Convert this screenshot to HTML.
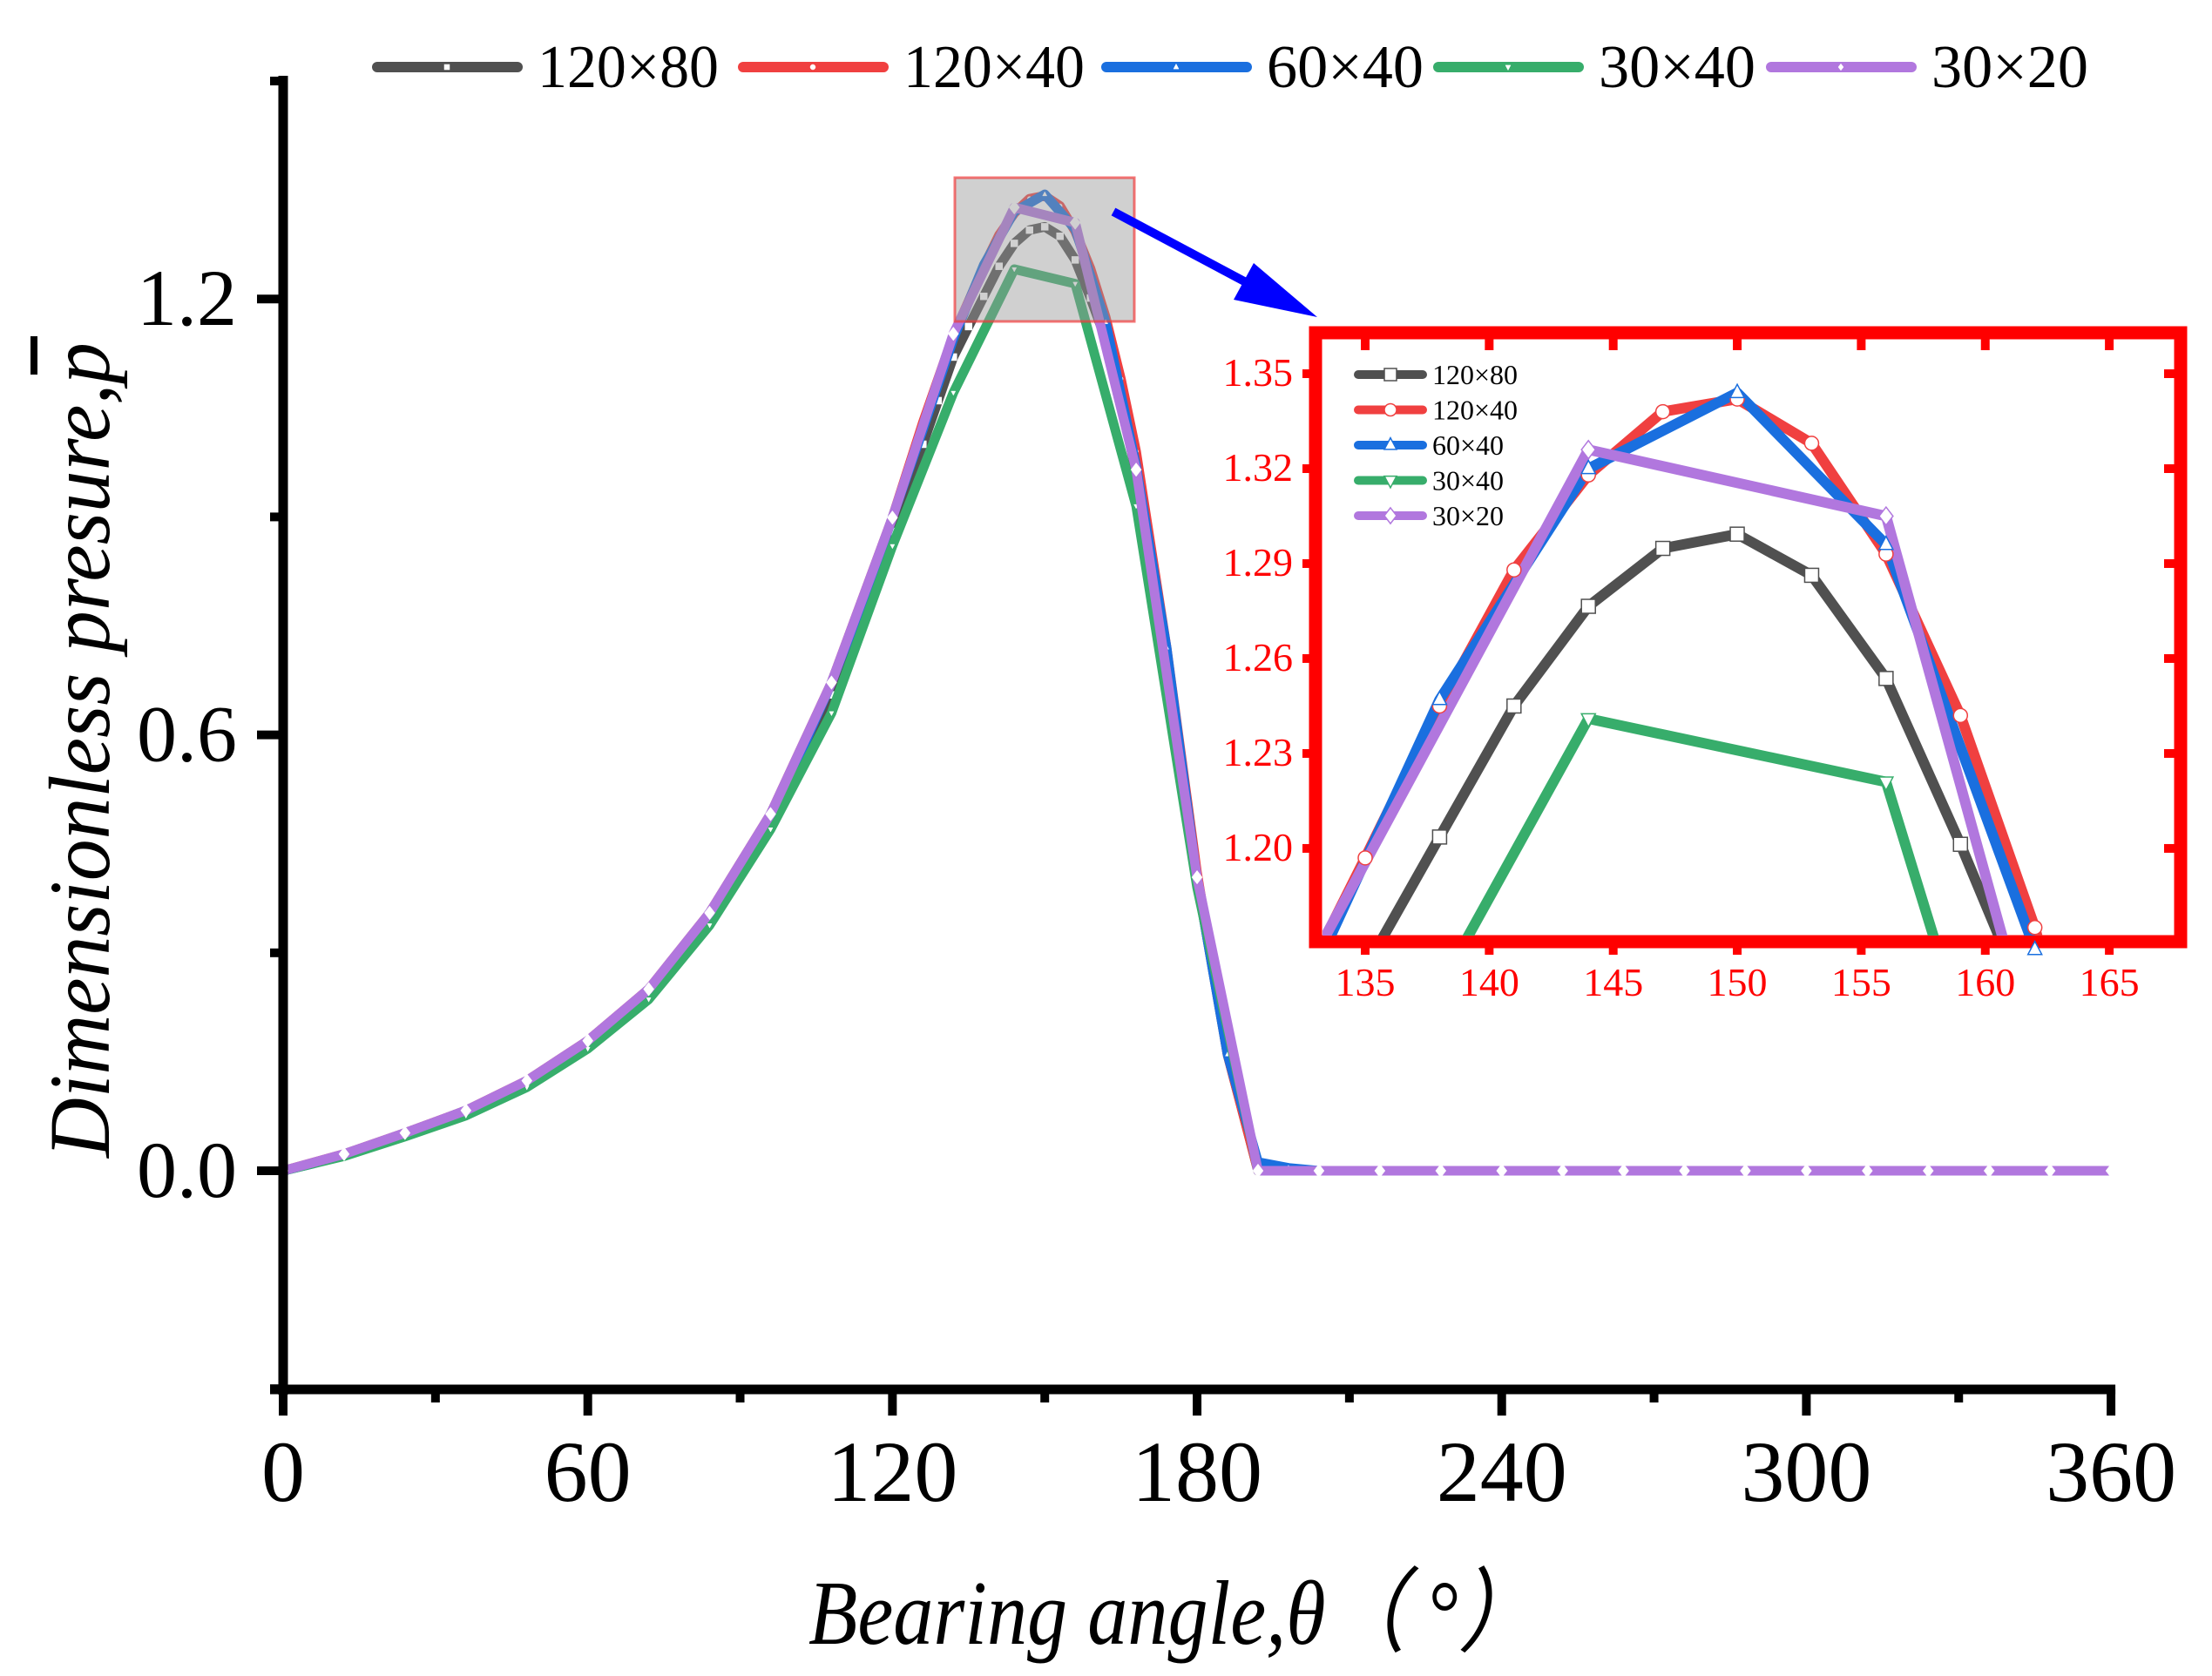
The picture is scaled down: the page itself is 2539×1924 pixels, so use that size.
<!DOCTYPE html>
<html><head><meta charset="utf-8"><style>
html,body{margin:0;padding:0;background:#fff;width:2539px;height:1924px;overflow:hidden}
svg{display:block}
text{font-family:"Liberation Serif",serif}
</style></head><body>
<svg id="chart" width="2539" height="1924" viewBox="0 0 2539 1924" xmlns="http://www.w3.org/2000/svg">
<defs><clipPath id="insetClip"><rect x="1518" y="389" width="978" height="685"/></clipPath></defs>
<g id="main"></g>
<g id="inset"></g>
</svg>
<script>
const xTicks = [0, 60, 120, 180, 240, 300, 360];
const xMinor = [30, 90, 150, 210, 270, 330];
const yTicks = [0.0, 0.6, 1.2];
const yTickLabels = ["0.0", "0.6", "1.2"];
const yMinor = [-0.3, 0.3, 0.9, 1.5];
const insetXTicks = [135, 140, 145, 150, 155, 160, 165];
const insetYTicks = [1.20, 1.23, 1.26, 1.29, 1.32, 1.35];
const insetYLabels = ["1.20", "1.23", "1.26", "1.29", "1.32", "1.35"];
const seriesNames = ["120×80", "120×40", "60×40", "30×40", "30×20"];

const zerosTheta = [204,216,228,240,252,264,276,288,300,312,324,336,348,360];
const zerosP = [0,0,0,0,0,0,0,0,0,0,0,0,0,0];

const theta120x80 = [0,12,24,36,48,60,72,84,96,108,120,126,129,132,135,138,141,144,147,150,153,156,159,162,165,168,174,180,186,192].concat(zerosTheta);
const p120x80 = [0,0.021,0.049,0.079,0.119,0.173,0.242,0.345,0.48,0.655,0.88,1.0,1.06,1.12,1.162,1.2036,1.245,1.2765,1.2948,1.2993,1.2863,1.2537,1.2013,1.145,1.06,0.96,0.70,0.40,0.16,0].concat(zerosP);

const theta120x40 = [0,12,24,36,48,60,72,84,96,108,120,126,129,132,135,138,141,144,147,150,153,156,159,162,165,168,174,180,186,192].concat(zerosTheta);
const p120x40 = [0,0.023,0.052,0.083,0.124,0.179,0.25,0.355,0.491,0.672,0.899,1.03,1.09,1.15,1.197,1.245,1.288,1.318,1.338,1.342,1.328,1.293,1.242,1.175,1.09,0.99,0.72,0.41,0.16,0].concat(zerosP);

const theta60x40 = [0,6,12,18,24,30,36,42,48,54,60,66,72,78,84,90,96,102,108,114,120,126,132,138,144,150,156,162,168,174,180,186,192,198].concat(zerosTheta);
const p60x40 = [0,0.01,0.023,0.037,0.052,0.067,0.083,0.102,0.124,0.149,0.179,0.212,0.25,0.298,0.355,0.418,0.491,0.576,0.672,0.78,0.899,1.02,1.145,1.247,1.32,1.344,1.296,1.168,0.97,0.72,0.40,0.16,0.012,0.004].concat(zerosP);

const theta30x40 = [0,12,24,36,48,60,72,84,96,108,120,132,144,156,168,180,192].concat(zerosTheta);
const p30x40 = [0,0.02,0.047,0.076,0.115,0.168,0.236,0.338,0.47,0.63,0.86,1.071,1.241,1.221,0.915,0.39,0].concat(zerosP);

const theta30x20 = [0,12,24,36,48,60,72,84,96,108,120,132,144,156,168,180,192].concat(zerosTheta);
const p30x20 = [0,0.023,0.052,0.083,0.124,0.179,0.25,0.355,0.491,0.672,0.899,1.152,1.326,1.305,0.965,0.404,0].concat(zerosP);

const NS = "http://www.w3.org/2000/svg";
function mk(tag, attrs, parent){const e=document.createElementNS(NS,tag);for(const k in attrs)e.setAttribute(k,attrs[k]);parent.appendChild(e);return e;}

const X = t => 325 + (t - 0) * 5.828;
const Y = v => 1344 - v * 834;
const IX = t => 1567 + (t - 135) * 28.47;
const IY = v => 429 - (v - 1.35) * 3633;

const series = [
 {name:seriesNames[0], th:theta120x80, p:p120x80, color:"#505050", m:"square", id:"120x80"},
 {name:seriesNames[1], th:theta120x40, p:p120x40, color:"#f04040", m:"circle", id:"120x40"},
 {name:seriesNames[2], th:theta60x40, p:p60x40, color:"#1a6fdf", m:"tri", id:"60x40"},
 {name:seriesNames[3], th:theta30x40, p:p30x40, color:"#37ad6b", m:"dtri", id:"30x40"},
 {name:seriesNames[4], th:theta30x20, p:p30x20, color:"#b177de", m:"diamond", id:"30x20"}
];

function marker(g, type, x, y, r, stroke, sw){
  let e;
  if(type==="square") e=mk("rect",{x:x-r,y:y-r,width:2*r,height:2*r},g);
  else if(type==="circle") e=mk("circle",{cx:x,cy:y,r:r},g);
  else if(type==="tri") e=mk("polygon",{points:`${x},${y-r*1.2} ${x-r},${y+r*0.7} ${x+r},${y+r*0.7}`},g);
  else if(type==="dtri") e=mk("polygon",{points:`${x},${y+r*1.2} ${x-r},${y-r*0.7} ${x+r},${y-r*0.7}`},g);
  else e=mk("polygon",{points:`${x},${y-r*1.3} ${x+r},${y} ${x},${y+r*1.3} ${x-r},${y}`},g);
  e.setAttribute("fill","#fff");e.setAttribute("stroke",stroke);e.setAttribute("stroke-width",sw);
  return e;
}

const main = document.getElementById("main");
series.forEach(s=>{
  const g = mk("g",{},main);
  
  
  const pts = s.th.map((t,i)=>X(t)+","+Y(s.p[i])).join(" ");
  const l = mk("polyline",{points:pts,fill:"none",stroke:s.color,"stroke-width":11,"stroke-linejoin":"round"},g);
  
  
  s.th.forEach((t,i)=>{
    const r = s.m==="diamond"?6:(s.m==="square"?4:2.5);
    const mm = marker(g, s.m, X(t), Y(s.p[i]), r, "#fff", 0.5);
    
    
  });
});
const zr = mk("rect",{x:1096,y:204,width:206,height:165,fill:"rgba(150,150,150,0.45)",stroke:"rgba(240,60,60,0.7)","stroke-width":3},main);


const ar = mk("g",{},main);


mk("line",{x1:1278,y1:243,x2:1432,y2:325,stroke:"#0000ff","stroke-width":10},ar);
mk("polygon",{points:"1439,302 1416,344 1512,364",fill:"#0000ff"},ar);

const ax = mk("g",{},main);


mk("line",{x1:325,y1:Y(1.5)-6,x2:325,y2:1601,stroke:"#000","stroke-width":11},ax);
mk("line",{x1:310,y1:1595,x2:X(360)+5,y2:1595,stroke:"#000","stroke-width":11},ax);
xTicks.forEach(t=>{
  mk("line",{x1:X(t),y1:1595,x2:X(t),y2:1625,stroke:"#000","stroke-width":10},ax);
  const tx = mk("text",{x:X(t),y:1723,"font-size":100,"text-anchor":"middle"},ax);
  tx.textContent = t;
  
  
});
xMinor.forEach(t=>{ mk("line",{x1:X(t),y1:1595,x2:X(t),y2:1610,stroke:"#000","stroke-width":10},ax); });
yTicks.forEach((v,i)=>{
  mk("line",{x1:295,y1:Y(v),x2:325,y2:Y(v),stroke:"#000","stroke-width":10},ax);
  const tx = mk("text",{x:272,y:Y(v)+30,"font-size":92,"text-anchor":"end"},ax);
  tx.textContent = yTickLabels[i];
  
  
});
yMinor.forEach(v=>{ mk("line",{x1:310,y1:Y(v),x2:325,y2:Y(v),stroke:"#000","stroke-width":10},ax); });

const xt = mk("text",{x:1347,y:1887,"font-size":105,"font-style":"italic","text-anchor":"middle",textLength:838,lengthAdjust:"spacingAndGlyphs"},main);
xt.textContent = "Bearing angle,θ（ °）";


const yt = mk("text",{x:0,y:0,"font-size":100,"font-style":"italic","text-anchor":"middle",transform:"translate(125,861) rotate(-90)",textLength:936,lengthAdjust:"spacingAndGlyphs"},main);
yt.textContent = "Dimensionless presure,p";


const ob = mk("rect",{x:35,y:386,width:8,height:44,fill:"#000"},main);



const legX = [427, 847, 1264, 1645, 2027];
const lg = mk("g",{},main);


series.forEach((s,i)=>{
  const e = mk("g",{},lg);
  
  
  mk("line",{x1:legX[i]+6,y1:77,x2:legX[i]+167,y2:77,stroke:s.color,"stroke-width":12,"stroke-linecap":"round"},e);
  marker(e, s.m, legX[i]+86, 77, 3, "#fff", 0.5);
  const t = mk("text",{x:legX[i]+190,y:100,"font-size":70,textLength:s.name.length>5?208:180,lengthAdjust:"spacingAndGlyphs"},e);
  t.textContent = s.name;
});

const ins = document.getElementById("inset");
const ib = mk("rect",{x:1510,y:382,width:993,height:699,fill:"#fff",stroke:"#ff0000","stroke-width":15},ins);


insetXTicks.forEach(t=>{
  mk("line",{x1:IX(t),y1:389,x2:IX(t),y2:402,stroke:"#f00","stroke-width":10},ins);
  mk("line",{x1:IX(t),y1:1081,x2:IX(t),y2:1096,stroke:"#f00","stroke-width":10},ins);
  const tx = mk("text",{x:IX(t),y:1143,"font-size":46,fill:"#ff0000","text-anchor":"middle"},ins);
  tx.textContent = t;
  
  
});
insetYTicks.forEach((v,i)=>{
  mk("line",{x1:1495,y1:IY(v),x2:1510,y2:IY(v),stroke:"#f00","stroke-width":10},ins);
  mk("line",{x1:2484,y1:IY(v),x2:2500,y2:IY(v),stroke:"#f00","stroke-width":10},ins);
  const tx = mk("text",{x:1484,y:IY(v)+14,"font-size":46,fill:"#ff0000","text-anchor":"end"},ins);
  tx.textContent = insetYLabels[i];
  
  
});
const ig = mk("g",{"clip-path":"url(#insetClip)"},ins);
series.forEach(s=>{
  const g = mk("g",{},ig);
  
  
  const pts = s.th.map((t,i)=>IX(t)+","+IY(s.p[i])).join(" ");
  mk("polyline",{points:pts,fill:"none",stroke:s.color,"stroke-width":12,"stroke-linejoin":"round"},g);
});
series.forEach(s=>{
  s.th.forEach((t,i)=>{
    const x=IX(t), y=IY(s.p[i]);
    if(x>1500 && x<2505 && y>380 && y<1095){
      const mm = marker(ins, s.m, x, y, 8, s.color, 1.5);
      
      
    }
  });
});
const ilg = mk("g",{},ins);


series.forEach((s,i)=>{
  const y = 430 + i*40.5;
  const e = mk("g",{},ilg);
  
  
  mk("line",{x1:1559,y1:y,x2:1633,y2:y,stroke:s.color,"stroke-width":10,"stroke-linecap":"round"},e);
  marker(e, s.m, 1596, y, 7, s.color, 1.5);
  const t = mk("text",{x:1644,y:y+11,"font-size":32},e);
  t.textContent = s.name;
});
</script>
</body></html>
